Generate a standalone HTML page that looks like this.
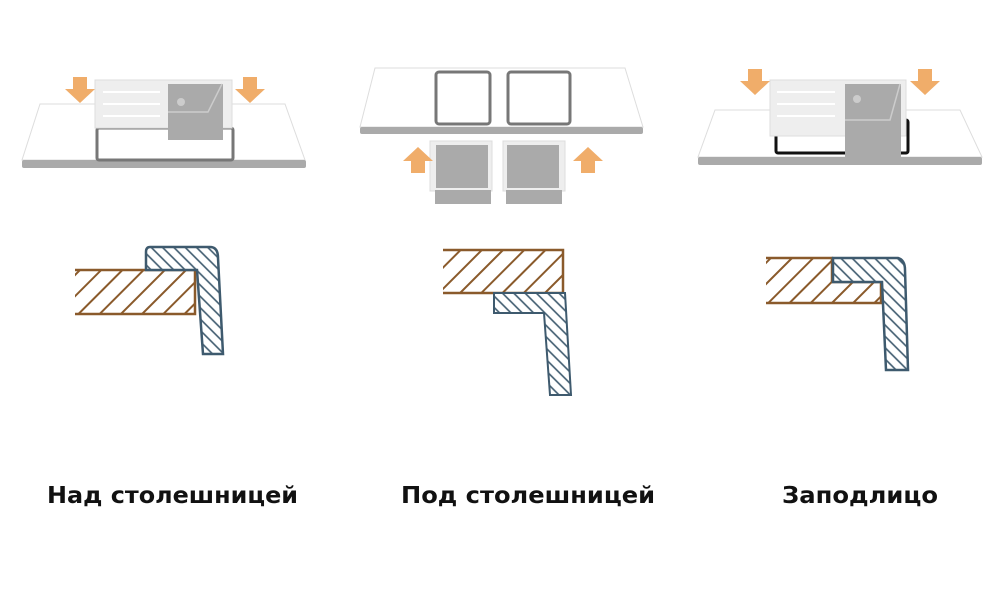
<!DOCTYPE html>
<html><head><meta charset="utf-8"><style>html,body{margin:0;padding:0;background:#fff}svg{display:block}</style></head>
<body>
<svg width="1000" height="600" viewBox="0 0 1000 600" xmlns="http://www.w3.org/2000/svg">
<defs>
<pattern id="hb" patternUnits="userSpaceOnUse" width="15" height="15" patternTransform="rotate(45)">
<rect width="15" height="15" fill="#fff"/><line x1="7.5" y1="0" x2="7.5" y2="15" stroke="#8a5a2b" stroke-width="2"/></pattern>
<pattern id="hl" patternUnits="userSpaceOnUse" width="8" height="8" patternTransform="rotate(-45)">
<rect width="8" height="8" fill="#fff"/><line x1="4" y1="0" x2="4" y2="8" stroke="#3e5a6e" stroke-width="1.6"/></pattern>
<g id="ad"><polygon points="-7,0 7,0 7,12 15,12 0,26 -15,12 -7,12" fill="#f0ad6a"/></g>
</defs>

<!-- Panel 1 -->
<polygon points="40,104 285,104 305,160 22,160" fill="#fff" stroke="#ddd"/>
<rect x="22" y="160" width="284" height="8" rx="2" fill="#aaa"/>
<rect x="97" y="128" width="136" height="32" fill="none" stroke="#777" stroke-width="3" rx="2"/>
<rect x="95" y="80" width="137" height="48" fill="#eee" stroke="#ddd"/>
<rect x="168" y="84" width="55" height="56" fill="#aaa"/>
<polyline points="168,112 208,112 222,84" fill="none" stroke="#ccc" stroke-width="1.5"/>
<circle cx="181" cy="102" r="4" fill="#ccc"/>
<g stroke="#fff" stroke-width="2"><line x1="103" y1="92" x2="160" y2="92"/><line x1="103" y1="104" x2="160" y2="104"/><line x1="103" y1="116" x2="160" y2="116"/></g>
<use href="#ad" x="80" y="77"/><use href="#ad" x="250" y="77"/>

<!-- Panel 2 -->
<polygon points="375,68 625,68 643,127 360,127" fill="#fff" stroke="#ddd"/>
<rect x="360" y="127" width="283" height="7" rx="2" fill="#aaa"/>
<rect x="436" y="72" width="54" height="52" fill="none" stroke="#777" stroke-width="3" rx="3"/>
<rect x="508" y="72" width="62" height="52" fill="none" stroke="#777" stroke-width="3" rx="3"/>
<rect x="430" y="141" width="62" height="50" fill="#eee" stroke="#ddd"/>
<rect x="435" y="190" width="56" height="14" fill="#aaa"/>
<rect x="436" y="145" width="52" height="43" fill="#aaa"/>
<rect x="503" y="141" width="62" height="50" fill="#eee" stroke="#ddd"/>
<rect x="506" y="190" width="56" height="14" fill="#aaa"/>
<rect x="507" y="145" width="52" height="43" fill="#aaa"/>
<use href="#ad" transform="translate(418,173) scale(1,-1)"/>
<use href="#ad" transform="translate(588,173) scale(1,-1)"/>

<!-- Panel 3 -->
<polygon points="715,110 960,110 982,157 698,157" fill="#fff" stroke="#ddd"/>
<rect x="698" y="157" width="284" height="8" rx="2" fill="#aaa"/>
<rect x="776" y="120" width="132" height="33" fill="none" stroke="#111" stroke-width="3" rx="2"/>
<rect x="770" y="80" width="136" height="56" fill="#eee" stroke="#ddd"/>
<rect x="845" y="84" width="56" height="73" fill="#aaa"/>
<polyline points="845,120 890,120 900,84" fill="none" stroke="#ccc" stroke-width="1.5"/>
<circle cx="857" cy="99" r="4" fill="#ccc"/>
<g stroke="#fff" stroke-width="2"><line x1="777" y1="92" x2="835" y2="92"/><line x1="777" y1="104" x2="835" y2="104"/><line x1="777" y1="116" x2="835" y2="116"/></g>
<use href="#ad" x="755" y="69"/><use href="#ad" x="925" y="69"/>

<!-- Sections -->
<path d="M75,270 H195 V314 H75" fill="url(#hb)" stroke="#8a5a2b" stroke-width="2.5"/>
<path d="M150,247 H210 Q218,247 218,258 L223,354 H203 L197,270 H146 V252 Q146,247 150,247 Z" fill="url(#hl)" stroke="#3e5a6e" stroke-width="2.5"/>

<path d="M443,250 H563 V293 H443" fill="url(#hb)" stroke="#8a5a2b" stroke-width="2.5"/>
<path d="M494,293 H565 L571,395 H550 L544,313 H494 Z" fill="url(#hl)" stroke="#3e5a6e" stroke-width="2"/>

<path d="M766,258 H832 V282 H881 V303 H766" fill="url(#hb)" stroke="#8a5a2b" stroke-width="2.5"/>
<path d="M833,258 H898 Q905,260 905,270 L908,370 H886 L882,282 H833 Z" fill="url(#hl)" stroke="#3e5a6e" stroke-width="2.5"/>

<g font-family="DejaVu Sans, sans-serif" font-weight="bold" font-size="23" fill="#111">
<text x="47" y="503" textLength="251" lengthAdjust="spacingAndGlyphs">Над столешницей</text>
<text x="401" y="503" textLength="254" lengthAdjust="spacingAndGlyphs">Под столешницей</text>
<text x="782" y="503" textLength="156" lengthAdjust="spacingAndGlyphs">Заподлицо</text>
</g>
</svg>
</body></html>
